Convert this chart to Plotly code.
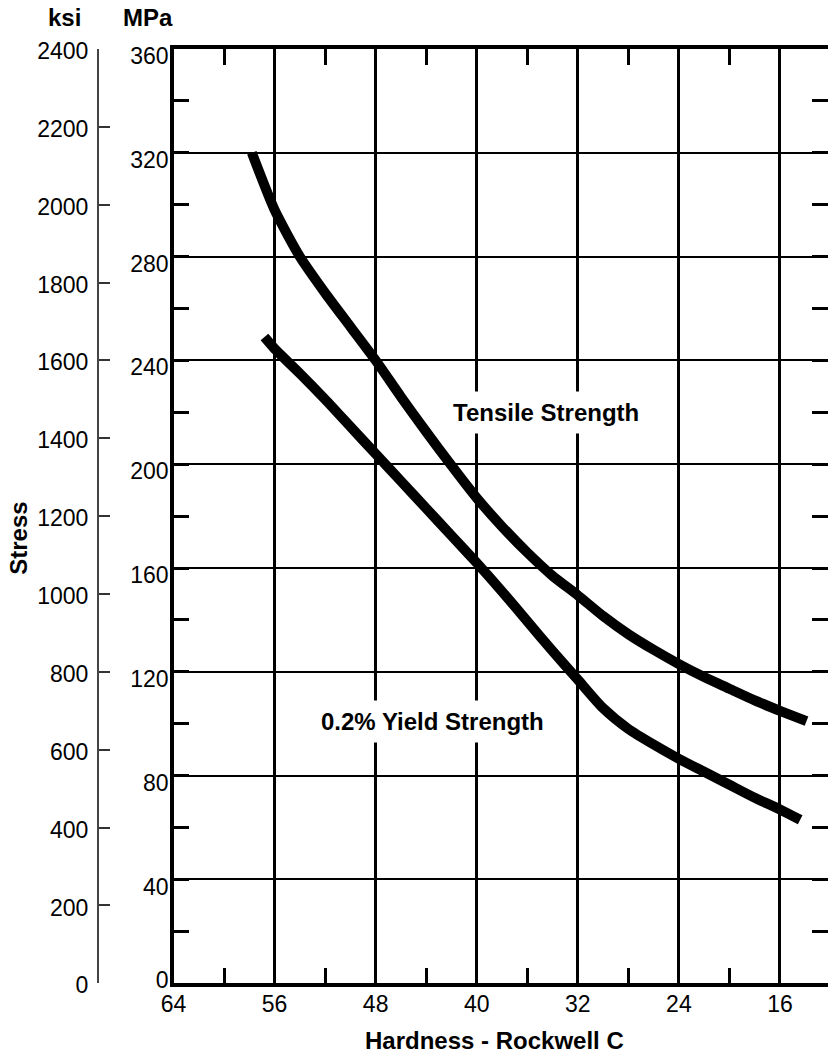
import plotly.graph_objects as go

W, H = 828, 1057

# Rockwell C hardness and stress (MPa)
tensile_hrc = [57.8, 56, 54, 52, 50, 48, 46, 44, 42, 40, 38, 36, 34, 32, 30, 28, 26, 24, 22, 20, 18, 16, 13.9]
tensile_mpa = [320, 298, 280, 266, 253, 240, 226, 212.5, 199.5, 187, 176, 166, 157, 149.5, 141.5, 134.5, 128.5, 123, 118, 113.5, 109, 105, 101]

yield_hrc = [56.8, 56, 54, 52, 50, 48, 46, 44, 42, 40, 38, 36, 34, 32, 30, 28, 26, 24, 22, 20, 18, 16, 14.4]
yield_mpa = [249, 244.5, 235, 225, 214.5, 204, 193.5, 183, 172.5, 162, 151, 139.5, 128, 117, 106, 98, 92, 86.5, 81.5, 76.5, 71.5, 67, 63]

# Axis ticks
hrc_major = [64, 56, 48, 40, 32, 24, 16]
hrc_minor = [60, 52, 44, 36, 28, 20]
mpa_major = [0, 40, 80, 120, 160, 200, 240, 280, 320, 360]
mpa_minor = [20, 60, 100, 140, 180, 220, 260, 300, 340]
ksi_major = [0, 200, 400, 600, 800, 1000, 1200, 1400, 1600, 1800, 2000, 2200, 2400]

# Curve labels: (text, hardness, stress)
curve_labels = [
    ("Tensile Strength", 34.5, 220),
    ("0.2% Yield Strength", 43.5, 101),
]

FONT = "Liberation Sans, Arial, Helvetica, sans-serif"
tick_font = dict(family=FONT, size=23, color="black")
bold_font = dict(family=FONT, size=24, color="black", weight="bold")

# plot frame in pixels
left_px, right_px = 173.5, 828
top_px, bottom_px = 49, 983.3
px_per_hrc = 12.635
x_end = 64 - (right_px - left_px) / px_per_hrc
px_per_mpa = (bottom_px - top_px) / 360.0
label_drop = 7 / px_per_mpa   # MPa labels sit just under their grid lines
zero_lift = 3.5 / px_per_mpa  # the 0 label sits slightly above the base line

fig = go.Figure()
for xs, ys in [(tensile_hrc, tensile_mpa), (yield_hrc, yield_mpa)]:
    fig.add_trace(go.Scatter(
        x=xs, y=ys, mode="lines",
        line=dict(color="black", width=10, shape="spline", smoothing=0.6),
        hoverinfo="skip", showlegend=False,
    ))

# empty traces so the extra scales get drawn
for ax in ["y2", "y3", "y4"]:
    fig.add_trace(go.Scatter(x=[], y=[], xaxis="x", yaxis=ax, mode="lines",
                             hoverinfo="skip", showlegend=False))

tick_style = dict(ticks="inside", ticklen=16, tickwidth=2.5, tickcolor="black")

fig.update_layout(
    width=W, height=H,
    margin=dict(l=0, r=0, t=0, b=0, autoexpand=False),
    paper_bgcolor="white", plot_bgcolor="white",
    showlegend=False,
    xaxis=dict(
        domain=[left_px / W, right_px / W], range=[64, x_end],
        tickmode="array", tickvals=hrc_major, **tick_style,
        minor=dict(tickmode="array", tickvals=hrc_minor, **tick_style, showgrid=False),
        showgrid=True, gridcolor="black", gridwidth=2.5,
        showline=True, linecolor="black", linewidth=3.5, mirror="ticks",
        zeroline=False, tickfont=tick_font, ticklabelstandoff=-3,
        automargin=False,
    ),
    yaxis=dict(
        domain=[1 - bottom_px / H, 1 - top_px / H], range=[0, 360],
        tickmode="array", tickvals=mpa_major, showticklabels=False, **tick_style,
        minor=dict(tickmode="array", tickvals=mpa_minor, **tick_style, showgrid=False),
        showgrid=True, gridcolor="black", gridwidth=2.2,
        showline=True, linecolor="black", linewidth=3.5, mirror=False,
        zeroline=False, automargin=False,
    ),
    # ksi scale
    yaxis2=dict(
        overlaying="y", anchor="free", position=98 / W, side="left",
        range=[0, 2400],
        tickmode="array", tickvals=ksi_major,
        ticks="inside", ticklen=11, tickwidth=2, tickcolor="#333",
        showline=True, linecolor="#444", linewidth=2,
        showgrid=False, zeroline=False,
        tickfont=tick_font, ticklabelstandoff=4, ticklabelshift=2,
        automargin=False,
    ),
    # right-hand minor ticks
    yaxis3=dict(
        overlaying="y", side="right", range=[0, 360],
        tickmode="array", tickvals=mpa_major, showticklabels=False, **tick_style,
        minor=dict(tickmode="array", tickvals=mpa_minor, **tick_style, showgrid=False),
        showgrid=False, showline=False, zeroline=False, automargin=False,
    ),
    # MPa tick labels
    yaxis4=dict(
        overlaying="y", side="left", range=[0, 360],
        tickmode="array",
        tickvals=[zero_lift if v == 0 else v - label_drop for v in mpa_major],
        ticktext=[str(v) for v in mpa_major],
        ticks="", showgrid=False, showline=False, zeroline=False,
        tickfont=tick_font, ticklabelstandoff=4, automargin=False,
    ),
)

for text, hx, sy in curve_labels:
    fig.add_annotation(
        x=hx, y=sy, xref="x", yref="y", text=text, showarrow=False,
        font=bold_font, bgcolor="white", borderpad=7,
    )

paper_labels = [
    ("ksi", 64.7, 18, 0),
    ("MPa", 147.7, 18, 0),
    ("Stress", 17.8, 538, -90),
    ("Hardness - Rockwell C", 494, 1040, 0),
]
for text, px, py, ang in paper_labels:
    fig.add_annotation(
        x=px / W, y=1 - py / H, xref="paper", yref="paper",
        text=text, showarrow=False, textangle=ang, font=bold_font,
        xanchor="center", yanchor="middle",
    )

fig.write_html("out.html")
